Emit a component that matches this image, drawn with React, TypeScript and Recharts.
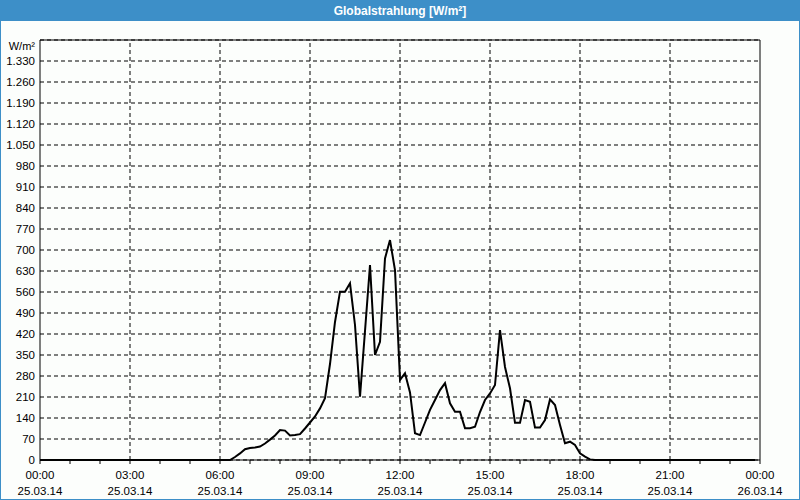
import {
  LineChart,
  Line,
  XAxis,
  YAxis,
  CartesianGrid,
  ReferenceLine,
} from "recharts";

// minutes since 25.03.14 00:00
const minutes = [
  0, 380, 390, 400, 410, 420, 430, 440, 450, 460, 470, 480, 490, 500, 510, 520,
  530, 540, 550, 560, 570, 580, 590, 600, 610, 620, 630, 640, 650, 660, 670,
  680, 690, 700, 710, 720, 730, 740, 750, 760, 770, 780, 790, 800, 810, 820,
  830, 840, 850, 860, 870, 880, 890, 900, 910, 920, 930, 940, 950, 960, 970,
  980, 990, 1000, 1010, 1020, 1030, 1040, 1050, 1060, 1070, 1080, 1090, 1100,
  1110, 1430,
];

// W/m²
const radiation = [
  0, 0, 10, 22, 36, 40, 42, 45, 55, 68, 82, 100, 98, 82, 83, 86, 105, 125, 145,
  172, 206, 320, 460, 561, 561, 589, 450, 211, 430, 650, 350, 394, 672, 733,
  633, 267, 289, 225, 89, 83, 125, 167, 200, 233, 256, 189, 161, 161, 106, 106,
  111, 160, 200, 222, 250, 433, 310, 239, 124, 124, 200, 194, 108, 108, 133,
  202, 183, 117, 56, 61, 50, 22, 11, 2, 0, 0,
];

const yTicks = [
  0, 70, 140, 210, 280, 350, 420, 490, 560, 630, 700, 770, 840, 910, 980, 1050,
  1120, 1190, 1260, 1330, 1400,
];
const hourTicks = [
  0, 60, 120, 180, 240, 300, 360, 420, 480, 540, 600, 660, 720, 780, 840, 900,
  960, 1020, 1080, 1140, 1200, 1260, 1320, 1380, 1440,
];
const gridTicks = [180, 360, 540, 720, 900, 1080, 1260];
const timeLabels = ["00:00", "03:00", "06:00", "09:00", "12:00", "15:00", "18:00", "21:00", "00:00"];
const dateLabels = ["25.03.14", "25.03.14", "25.03.14", "25.03.14", "25.03.14", "25.03.14", "25.03.14", "25.03.14", "26.03.14"];

const data = minutes.map((m, i) => ({ t: m, v: radiation[i] }));

const FONT = "'Liberation Sans', Arial, sans-serif";

const fmt = (v: number) =>
  v >= 1000 ? `${Math.floor(v / 1000)}.${String(v % 1000).padStart(3, "0")}` : String(v);

const YTick = ({ x, y, payload }: any) => {
  if (payload.value === 1400) {
    return (
      <text x={x} y={y + 10} textAnchor="end" fontSize={11} fontFamily={FONT} fill="#000">
        W/m²
      </text>
    );
  }
  return (
    <text x={x} y={y + 4} textAnchor="end" fontSize={11.5} fontFamily={FONT} fill="#000">
      {fmt(payload.value)}
    </text>
  );
};

const XTick = ({ x, y, payload }: any) => {
  if (payload.value % 180 !== 0) return null;
  const i = payload.value / 180;
  return (
    <g>
      <text x={x} y={y + 13} textAnchor="middle" fontSize={11.5} fontFamily={FONT} fill="#000">
        {timeLabels[i]}
      </text>
      <text x={x} y={y + 29} textAnchor="middle" fontSize={11.5} fontFamily={FONT} fill="#000">
        {dateLabels[i]}
      </text>
    </g>
  );
};

export default function App() {
  return (
    <div
      style={{
        position: "fixed",
        left: 0,
        top: 0,
        width: 800,
        height: 500,
        background: "#fcfefc",
        boxSizing: "border-box",
        border: "1px solid #3d8fc8",
      }}
    >
      <div
        style={{
          position: "absolute",
          left: 0,
          top: 0,
          width: 798,
          height: 20,
          background: "#3d8fc8",
          color: "#fff",
          fontFamily: FONT,
          fontWeight: "bold",
          fontSize: 12,
          lineHeight: "20px",
          textAlign: "center",
        }}
      >
        Globalstrahlung [W/m²]
      </div>
      <div style={{ position: "absolute", left: -1, top: -1 }}>
        <LineChart
          width={800}
          height={500}
          data={data}
          margin={{ top: 40, right: 40, bottom: 0, left: 0 }}
        >
          <CartesianGrid vertical={false} stroke="#000" strokeDasharray="4 3" />
          {gridTicks.map((g) => (
            <ReferenceLine key={g} x={g} stroke="#000" strokeDasharray="4 3" />
          ))}
          <ReferenceLine y={1400} stroke="#000" />
          <ReferenceLine x={1440} stroke="#000" />
          <XAxis
            dataKey="t"
            type="number"
            domain={[0, 1440]}
            ticks={hourTicks}
            interval={0}
            height={40}
            stroke="#000"
            tickSize={4}
            tickMargin={2}
            tick={<XTick />}
          />
          <YAxis
            type="number"
            domain={[0, 1400]}
            ticks={yTicks}
            interval={0}
            width={40}
            stroke="#000"
            tickLine={false}
            tickSize={5}
            tickMargin={0}
            tick={<YTick />}
          />
          <Line
            type="linear"
            dataKey="v"
            stroke="#000"
            strokeWidth={2}
            dot={false}
            isAnimationActive={false}
          />
        </LineChart>
      </div>
    </div>
  );
}
